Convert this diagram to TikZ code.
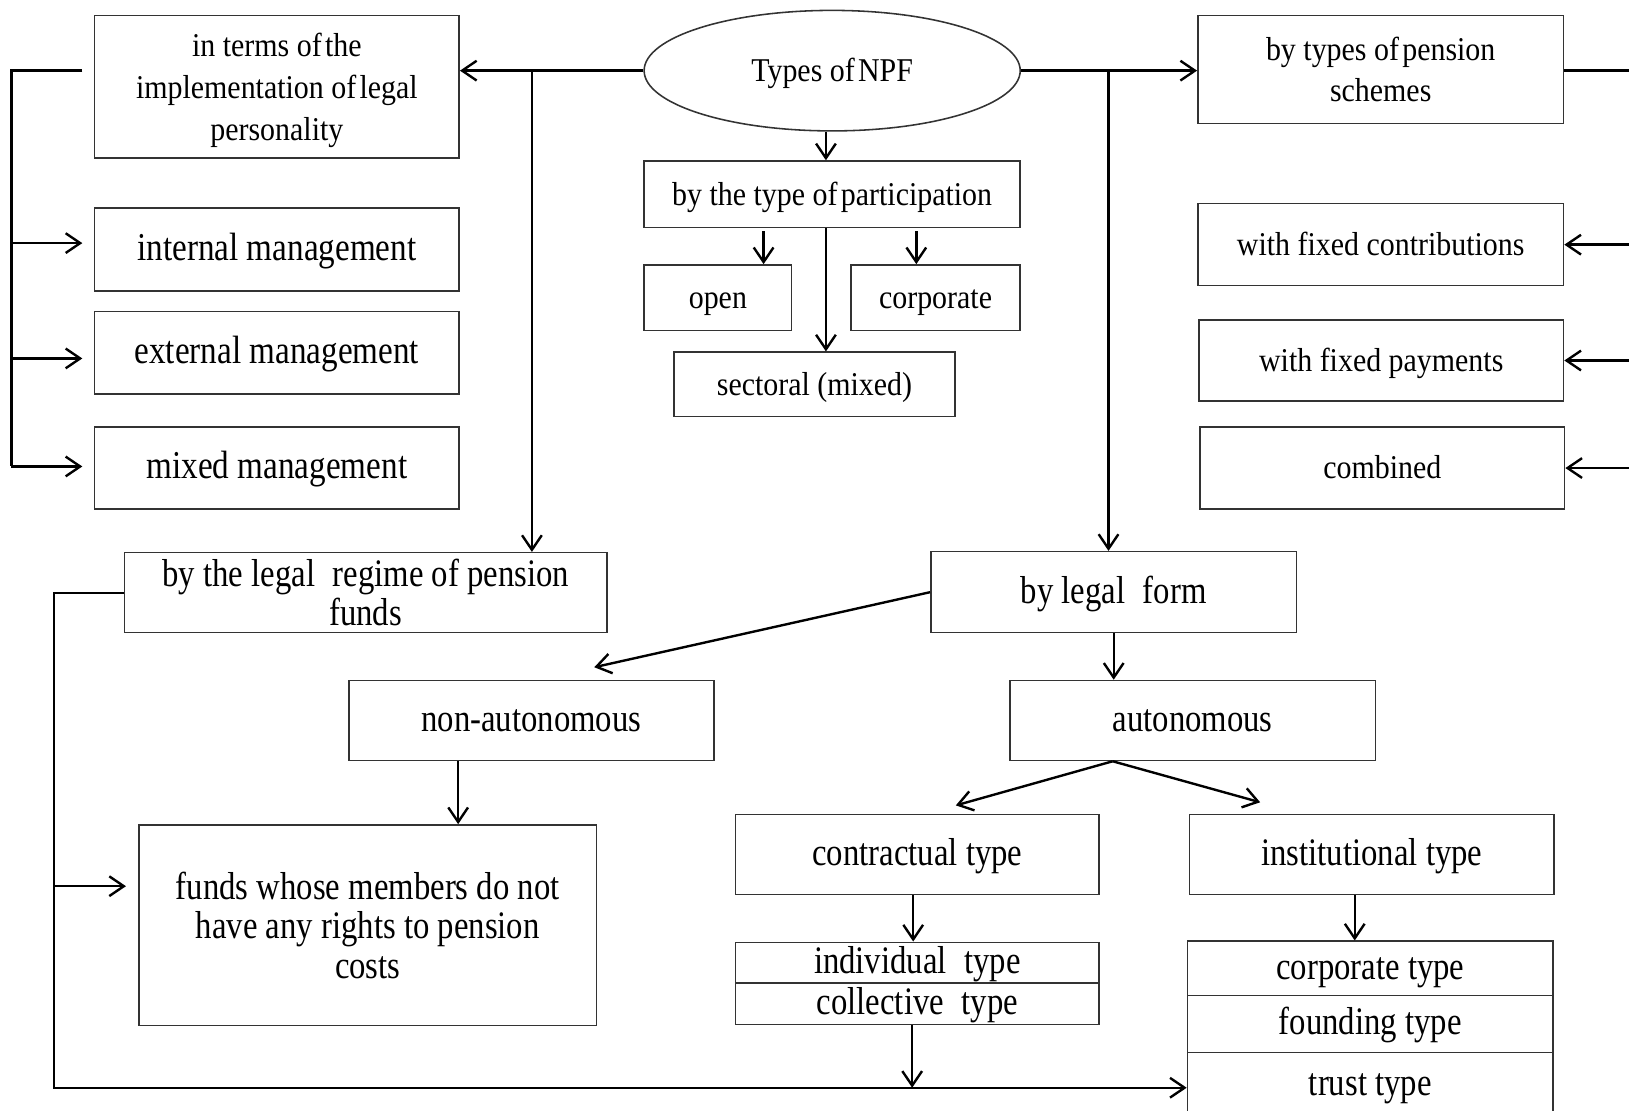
\documentclass[tikz,border=0pt]{standalone}
\usepackage{fontspec}
\setmainfont{Liberation Serif}
\newfontfamily\upfont[FakeStretch=0.9]{Liberation Serif}
\newfontfamily\condfont[FakeStretch=0.84]{Liberation Serif}
\usetikzlibrary{arrows.meta,calc,shapes.geometric}

\begin{document}
\begin{tikzpicture}[x=1pt,y=-1pt,
  box/.style={draw=black!80, line width=1.5pt, inner sep=0pt, align=center,
              font=\upfont\fontsize{32}{40}\selectfont},
  box1/.style={box, text height=21pt, text depth=0pt},
  bigbox/.style={box1, font=\condfont\fontsize{38}{40}\selectfont},
  cbox/.style={box, font=\condfont\fontsize{37.5}{38}\selectfont},
  cbox1/.style={cbox, text height=21pt, text depth=0pt},
  ell/.style={box1, ellipse},
  sz/.style 2 args={minimum width=#1pt, minimum height=#2pt},
  link/.style={line width=2.3pt, black},
  arr/.style={link, -{Straight Barb[length=14pt,width=19pt]}},
]
\useasboundingbox[fill=white] (0,0) rectangle (1568,1069);

% upper part
\node[ell, sz={362}{116}] (E) at (801,68) {Types of\hspace{.1em}NPF};
\node[box, sz={351}{137}, text depth=0pt] (A) at (266.5,83.5) {in terms of\hspace{.1em}the\\implementation of\hspace{.1em}legal\\personality};
\node[bigbox, sz={351}{80}] (B) at (266.5,240) {internal management};
\node[bigbox, sz={351}{79}] (C) at (266.5,339.5) {external management};
\node[bigbox, sz={351}{79}] (D) at (266.5,450.5) {mixed management};
\node[box1, sz={362}{64}] (P) at (801,187) {by the type of\hspace{.1em}participation};
\node[box1, sz={142}{63}] (O) at (691,286.5) {open};
\node[box1, sz={163}{63}] (Cp) at (900.5,286.5) {corporate};
\node[box1, sz={270}{62}] (Se) at (784,370) {sectoral (mixed)};
\node[box, sz={352}{104}] (S) at (1329,67) {by types of\hspace{.1em}pension\\schemes};
\node[box1, sz={352}{79}] (FC) at (1329,235.5) {with fixed contributions};
\node[box1, sz={351}{78}] (FP) at (1329.5,347) {with fixed payments};
\node[box1, sz={351}{79}] (CB) at (1330.5,450.5) {combined};

% lower part
\node[cbox, sz={464}{77}] (R) at (352,570.5) {by the legal\hspace{.45em}regime of pension\\funds};
\node[cbox1, sz={352}{78}] (LF) at (1072,570) {by legal\hspace{.45em}form};
\node[cbox1, sz={351}{77}] (NA) at (511.5,693.5) {non-autonomous};
\node[cbox1, sz={352}{77}] (AU) at (1148,693.5) {autonomous};
\node[cbox, sz={440}{193}] (FU) at (354,890.5) {funds whose members do not\\have any rights to pension\\costs};
\node[cbox1, sz={350}{77}] (CT) at (883,822.5) {contractual type};
\node[cbox1, sz={351}{77}] (IT) at (1320.5,822.5) {institutional type};
\node[cbox1, sz={350}{39}] (IN) at (883,926.5) {individual\hspace{.45em}type};
\node[cbox1, sz={350}{40}] (CO) at (883,966) {collective\hspace{.45em}type};
\node[cbox1, sz={352}{52}] (KT) at (1319,932) {corporate type};
\node[cbox1, sz={352}{55}] (FT) at (1319,985.5) {founding type};
\node[cbox1, sz={352}{62}] (TT) at (1319,1044) {trust type};

% helper coordinates for the bus lines
\coordinate (jl) at (512,68);
\coordinate (jr) at (1067,68);
\coordinate (lx) at (11,0);
\coordinate (rx) at (1580,0);
\coordinate (bx) at (52,0);
\coordinate (by) at (0,1047);

% left bracket
\coordinate (sA) at (A.west |- E.west);
\coordinate (tB) at ([xshift=-11pt, yshift=6pt]B.west);
\coordinate (tC) at ([xshift=-11pt, yshift=-5.5pt]C.west);
\coordinate (tD) at ([xshift=-11pt, yshift=1.5pt]D.west);
\draw[arr] (E.west) -- (E.west -| A.east);
\draw[arr] (jl) -- (jl |- R.north);
\draw[link] ([xshift=-11pt]sA) -- (lx |- sA) -- (lx |- tD);
\draw[arr] (lx |- tB) -- (tB);
\draw[arr] (lx |- tC) -- (tC);
\draw[arr] (lx |- tD) -- (tD);

% right bracket
\draw[arr] (E.east) -- (E.east -| S.west);
\draw[arr] (jr) -- (jr |- LF.north);
\draw[link] (S.east |- E.east) -- (rx |- E.east) -- (rx |- CB.east);
\draw[arr] (rx |- FC.east) -- (FC.east);
\draw[arr] (rx |- FP.east) -- (FP.east);
\draw[arr] (rx |- CB.east) -- (CB.east);

% participation branch
\coordinate (eS) at ([xshift=-6pt]E.south);
\draw[arr] (eS) -- (eS |- P.north);
\coordinate (pO) at ([xshift=44pt]O.north);
\coordinate (pC) at ([xshift=-18.5pt]Cp.north);
\coordinate (pS) at ([xshift=11pt]Se.north);
\draw[arr] ([yshift=-3pt]pO |- P.south) -- (pO);
\draw[arr] ([yshift=-3pt]pC |- P.south) -- (pC);
\draw[arr] (pS |- P.south) -- (pS);

% legal regime branch
\coordinate (tF) at ([xshift=-12pt, yshift=37.5pt]FU.west);
\draw[arr] (R.west) -- (bx |- R.west) -- (bx |- by) -- (by -| TT.west);
\draw[arr] (bx |- tF) -- (tF);

% legal form branch
\draw[arr] (LF.west) -- ([xshift=60.5pt, yshift=12pt]NA.north);
\draw[arr] (LF.south) -- (LF.south |- AU.north);
\coordinate (nS) at ([xshift=-70.5pt]NA.south);
\draw[arr] (nS) -- (nS |- FU.north);
\coordinate (aS) at ([xshift=-77pt]AU.south);
\draw[arr] (aS) -- ([xshift=37pt, yshift=8pt]CT.north);
\draw[arr] (aS) -- ([xshift=-107.5pt, yshift=11pt]IT.north);
\coordinate (cS) at ([xshift=-4pt]CT.south);
\draw[arr] (cS) -- (cS |- IN.north);
\coordinate (oS) at ([xshift=-5pt]CO.south);
\draw[arr] (oS) -- (oS |- by);
\coordinate (iS) at ([xshift=-16.5pt]IT.south);
\draw[arr] (iS) -- (iS |- KT.north);
\end{tikzpicture}
\end{document}
